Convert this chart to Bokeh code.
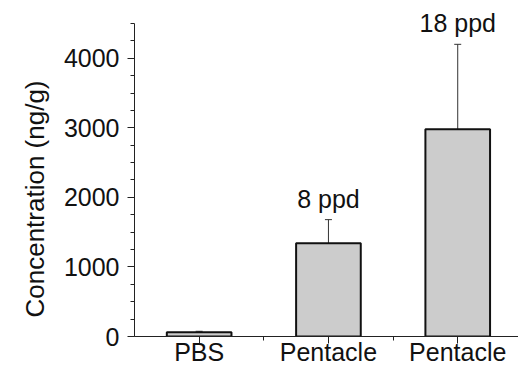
from bokeh.plotting import figure
from bokeh.models import ColumnDataSource, Whisker, TeeHead, FixedTicker, SingleIntervalTicker, Range1d, Title
from bokeh.core.properties import value
from bokeh.embed import file_html
from bokeh.resources import INLINE

categories = ["PBS", "Pentacle", "Pentacle"]
positions = [1, 2, 3]
means = [60, 1340, 2980]
errors = [15, 340, 1220]
annotations = ["", "8 ppd", "18 ppd"]
y_title = "Concentration (ng/g)"

FONT = "Liberation Sans"

src = ColumnDataSource(dict(
    x=positions,
    top=means,
    lower=[m - e for m, e in zip(means, errors)],
    upper=[m + e for m, e in zip(means, errors)],
    label=annotations,
))

p = figure(width=518, height=368, output_backend="svg", toolbar_location=None,
           x_range=Range1d(0.5, 3.47), y_range=Range1d(0, 4830),
           min_border_left=134, min_border_top=0, min_border_right=0, min_border_bottom=0)

p.vbar(x="x", top="top", bottom=0, width=0.5, source=src,
       fill_color="#cccccc", line_color="#111111", line_width=2)

w = Whisker(base="x", lower="lower", upper="upper", source=src,
            line_color="#333333", line_width=1,
            upper_head=TeeHead(size=7, line_color="#333333", line_width=1),
            lower_head=TeeHead(size=7, line_color="#333333", line_width=1))
p.add_layout(w)

p.text(x="x", y="upper", text="label", source=src, text_align="center",
       text_baseline="alphabetic", y_offset=-21, text_font=value(FONT),
       text_font_size="25px", text_color="#111111")

t = Title(text=y_title, align="left", offset=19, text_font=FONT,
          text_font_size="26px", text_font_style="normal", text_color="#111111",
          standoff=21)
p.add_layout(t, "left")

p.xgrid.visible = False
p.ygrid.visible = False
p.outline_line_color = None
p.background_fill_color = "white"
p.border_fill_color = "white"

p.xaxis.ticker = FixedTicker(ticks=positions, minor_ticks=[1.5, 2.5])
p.xaxis.major_label_overrides = {pos: c for pos, c in zip(positions, categories)}
p.yaxis.ticker = SingleIntervalTicker(interval=1000, num_minor_ticks=4)
p.yaxis.bounds = (0, 4500)

for ax in (p.xaxis[0], p.yaxis[0]):
    ax.axis_line_color = "#222222"
    ax.major_tick_line_color = "#222222"
    ax.minor_tick_line_color = "#222222"
    ax.major_tick_out = 7
    ax.major_tick_in = 0
    ax.minor_tick_out = 4
    ax.minor_tick_in = 0
    ax.major_label_text_font = FONT
    ax.major_label_text_font_size = "25px"
    ax.major_label_text_color = "#111111"

p.xaxis.major_label_standoff = -6
p.yaxis.major_label_standoff = 8

open("out.html", "w").write(file_html(p, INLINE))
